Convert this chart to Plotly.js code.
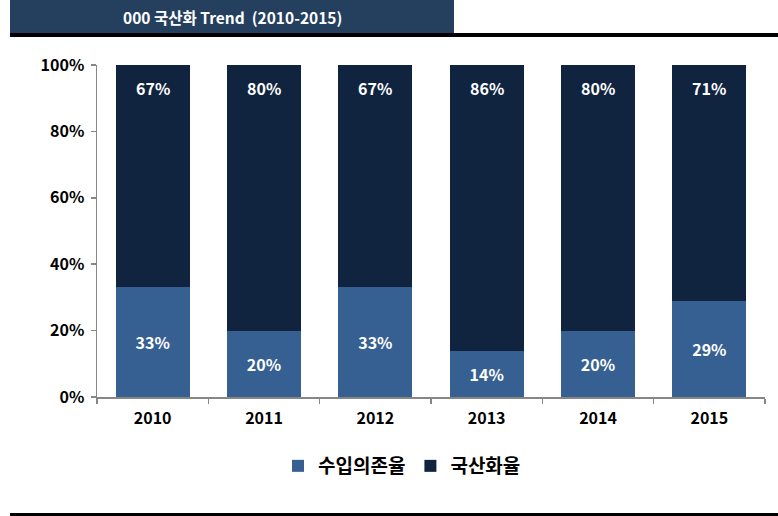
<!DOCTYPE html>
<html>
<head>
<meta charset="utf-8">
<script src="https://cdn.plot.ly/plotly-3.0.1.min.js"></script>
<style>html,body{margin:0;padding:0;background:#fff;}#chart{width:778px;height:516px;}</style>
</head>
<body>
<div id="chart"></div>
<script>
const years = ['2010', '2011', '2012', '2013', '2014', '2015'];
const importDependence = [33, 20, 33, 14, 20, 29];
const localization = [67, 80, 67, 86, 80, 71];
const seriesNames = ['수입의존율', '국산화율'];
const titleText = '000 국산화 Trend  (2010-2015)';
const yTicks = [0, 20, 40, 60, 80, 100];

const FONT = '"Noto Sans CJK KR", "Noto Sans", sans-serif';
const lightBlue = '#376092';
const darkBlue = '#10243f';

const traces = [
  {
    type: 'bar', name: '<b>' + seriesNames[0] + '</b>', x: years, y: importDependence,
    marker: {color: lightBlue},
    text: importDependence.map(v => '<b>' + v + '%</b>'),
    textposition: 'inside', insidetextanchor: 'middle',
    textfont: {family: FONT, size: 16, color: '#ffffff'},
    hoverinfo: 'skip'
  },
  {
    type: 'bar', name: '<b>' + seriesNames[1] + '</b>', x: years, y: localization,
    marker: {color: darkBlue},
    hoverinfo: 'skip'
  }
];

const annotations = years.map((yr, i) => ({
  x: i, y: 100, xref: 'x', yref: 'y', yshift: -23,
  text: '<b>' + localization[i] + '%</b>', showarrow: false,
  font: {family: FONT, size: 16, color: '#ffffff'}
}));
const px = v => (v - 97) / 668;
const py = v => (397 - v) / 332;
annotations.push({
  xref: 'paper', yref: 'paper', x: px(232), y: py(17),
  text: '<b>' + titleText + '</b>', showarrow: false, xanchor: 'center', yanchor: 'middle',
  font: {family: FONT, size: 15.5, color: '#ffffff'}
});

const layout = {
  width: 778, height: 516,
  margin: {l: 97, r: 13, t: 65, b: 119},
  paper_bgcolor: '#ffffff', plot_bgcolor: '#ffffff',
  barmode: 'stack', bargap: 0.335,
  showlegend: true,
  legend: {
    orientation: 'h', x: px(402), xanchor: 'center', y: py(466), yanchor: 'middle',
    font: {family: FONT, size: 19, color: '#000000'},
    itemwidth: 30, traceorder: 'normal'
  },
  xaxis: {
    type: 'category', categoryorder: 'array', categoryarray: years,
    range: [-0.5, 5.5], autorange: false,
    showgrid: false, zeroline: false,
    showline: true, linecolor: '#868686', linewidth: 1.5,
    ticks: 'outside', tickson: 'boundaries', ticklen: 5, tickcolor: '#868686', tickwidth: 1.5,
    tickangle: 0, ticklabelstandoff: 6,
    tickfont: {family: FONT, size: 16, color: '#000000', weight: 700}
  },
  yaxis: {
    range: [0, 100], autorange: false, tickvals: yTicks, ticktext: yTicks.map(v => v + '%'),
    showgrid: false, zeroline: false,
    showline: true, linecolor: '#868686', linewidth: 1.5,
    ticks: 'outside', ticklen: 5, tickcolor: '#868686', tickwidth: 1.5,
    ticklabelstandoff: 3,
    tickfont: {family: FONT, size: 16, color: '#000000', weight: 700}
  },
  annotations: annotations,
  shapes: [
    {type: 'rect', xref: 'paper', yref: 'paper', x0: px(10), x1: px(454), y0: py(33), y1: py(0),
     fillcolor: '#253f5e', line: {width: 0}, layer: 'below'},
    {type: 'rect', xref: 'paper', yref: 'paper', x0: px(10), x1: px(778), y0: py(37), y1: py(33),
     fillcolor: '#000000', line: {width: 0}},
    {type: 'rect', xref: 'paper', yref: 'paper', x0: px(10), x1: px(778), y0: py(516), y1: py(513),
     fillcolor: '#000000', line: {width: 0}}
  ]
};

Plotly.newPlot('chart', traces, layout, {displayModeBar: false, staticPlot: true});
</script>
</body>
</html>
